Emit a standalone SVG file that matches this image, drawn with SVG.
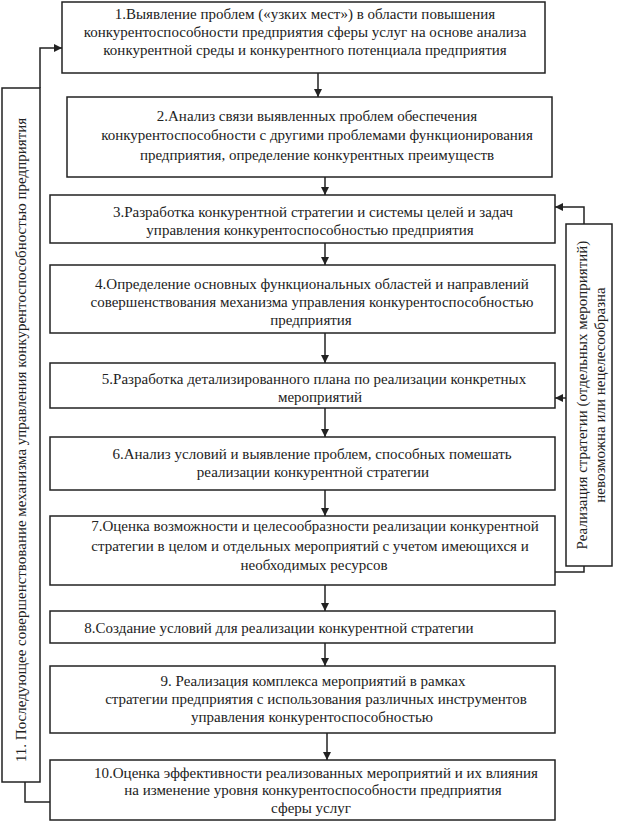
<svg xmlns="http://www.w3.org/2000/svg" width="623" height="825" viewBox="0 0 623 825" font-family="Liberation Serif, Times New Roman, serif">
<style>
.b{fill:#fff;stroke:#222;stroke-width:1.5}
.t{font-size:15px;fill:#222;text-anchor:middle}
.c{fill:none;stroke:#222;stroke-width:1.5}
</style>
<defs>
<marker id="a" viewBox="0 0 10 10" refX="10" refY="5" markerWidth="8" markerHeight="8" markerUnits="userSpaceOnUse" orient="auto">
<path d="M0,0 L10,5 L0,10 z" fill="#222"/>
</marker>
</defs>
<rect width="623" height="825" fill="#fff"/>
<g id="connectors">
<line class="c" x1="318" y1="73" x2="318" y2="97" marker-end="url(#a)"/>
<line class="c" x1="325" y1="177" x2="325" y2="195" marker-end="url(#a)"/>
<line class="c" x1="325" y1="243" x2="325" y2="265" marker-end="url(#a)"/>
<line class="c" x1="325" y1="333" x2="325" y2="363" marker-end="url(#a)"/>
<line class="c" x1="325" y1="408" x2="325" y2="437" marker-end="url(#a)"/>
<line class="c" x1="325" y1="490" x2="325" y2="516" marker-end="url(#a)"/>
<line class="c" x1="325" y1="585" x2="325" y2="611" marker-end="url(#a)"/>
<line class="c" x1="325" y1="643" x2="325" y2="666" marker-end="url(#a)"/>
<line class="c" x1="327" y1="733" x2="327" y2="760" marker-end="url(#a)"/>
<polyline class="c" points="50,802 25,802 25,782"/>
<polyline class="c" points="40,88 40,48 62,48" marker-end="url(#a)"/>
<polyline class="c" points="555,572 584,572 584,566"/>
<polyline class="c" points="584,224 584,207 555,207" marker-end="url(#a)"/>
<line class="c" x1="566" y1="398" x2="555" y2="398" marker-end="url(#a)"/>
</g>
<g id="n1"><rect class="b" x="62" y="2" width="483" height="71"/>
<text class="t" x="305" y="19">1.Выявление проблем («узких мест») в области повышения</text>
<text class="t" x="305" y="37">конкурентоспособности предприятия сферы услуг на основе анализа</text>
<text class="t" x="305" y="55">конкурентной среды и конкурентного потенциала предприятия</text></g>
<g id="n2"><rect class="b" x="67" y="97" width="485" height="80"/>
<text class="t" x="317" y="121">2.Анализ связи выявленных проблем обеспечения</text>
<text class="t" x="317" y="140">конкурентоспособности с другими проблемами функционирования</text>
<text class="t" x="317" y="160">предприятия, определение конкурентных преимуществ</text></g>
<g id="n3"><rect class="b" x="50" y="195" width="505" height="48"/>
<text class="t" x="313" y="217">3.Разработка конкурентной стратегии и системы целей и задач</text>
<text class="t" x="310" y="235">управления конкурентоспособностью предприятия</text></g>
<g id="n4"><rect class="b" x="50" y="265" width="505" height="68"/>
<text class="t" x="312" y="289">4.Определение основных функциональных областей и направлений</text>
<text class="t" x="312" y="307">совершенствования механизма управления конкурентоспособностью</text>
<text class="t" x="311" y="325">предприятия</text></g>
<g id="n5"><rect class="b" x="50" y="363" width="505" height="45"/>
<text class="t" x="314" y="384">5.Разработка детализированного плана по реализации конкретных</text>
<text class="t" x="320" y="402">мероприятий</text></g>
<g id="n6"><rect class="b" x="50" y="437" width="505" height="53"/>
<text class="t" x="312" y="459">6.Анализ условий и выявление проблем, способных помешать</text>
<text class="t" x="313" y="477">реализации конкурентной стратегии</text></g>
<g id="n7"><rect class="b" x="50" y="516" width="505" height="69"/>
<text class="t" x="315" y="531">7.Оценка возможности и целесообразности реализации конкурентной</text>
<text class="t" x="310" y="551">стратегии в целом и отдельных мероприятий с учетом имеющихся и</text>
<text class="t" x="314" y="570">необходимых ресурсов</text></g>
<g id="n8"><rect class="b" x="50" y="611" width="505" height="32"/>
<text class="t" x="279" y="633">8.Создание условий для реализации конкурентной стратегии</text></g>
<g id="n9"><rect class="b" x="50" y="666" width="505" height="67"/>
<text class="t" x="313" y="686">9. Реализация комплекса мероприятий в рамках</text>
<text class="t" x="316" y="704">стратегии предприятия с использования различных инструментов</text>
<text class="t" x="312" y="722">управления конкурентоспособностью</text></g>
<g id="n10"><rect class="b" x="50" y="760" width="505" height="60"/>
<text class="t" x="316" y="778">10.Оценка эффективности реализованных мероприятий и их влияния</text>
<text class="t" x="313" y="795">на изменение уровня конкурентоспособности предприятия</text>
<text class="t" x="311" y="813">сферы услуг</text></g>
<g id="n11"><rect class="b" x="2" y="88" width="38" height="694"/>
<text class="t" transform="translate(26,440) rotate(-90)">11. Последующее совершенствование механизма управления конкурентоспособностью предприятия</text></g>
<g id="n12"><rect class="b" x="566" y="224" width="46" height="342"/>
<text class="t" transform="translate(587,395) rotate(-90)">Реализация стратегии (отдельных мероприятий)</text>
<text class="t" transform="translate(605,395) rotate(-90)">невозможна или нецелесообразна</text></g>
</svg>
